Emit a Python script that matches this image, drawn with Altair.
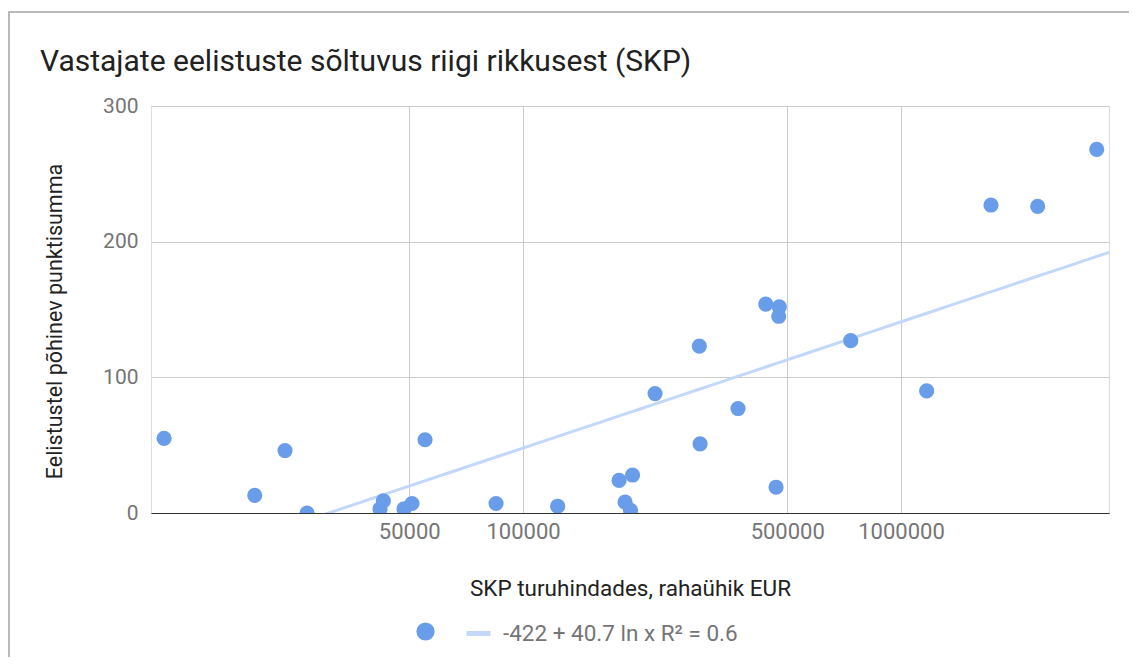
import altair as alt
import pandas as pd

# GDP at market prices (EUR) and preference-based score
gdp = [11230, 19510, 23460, 26830, 41850, 42700, 48440, 50850, 55050, 84850,
       123500, 179500, 194900, 186200, 192500, 223500, 292700, 294000, 370500,
       438700, 467100, 476400, 474700, 736200, 1169000, 1730000, 2299000, 3294000]
score = [55, 13, 46, 0, 3, 9, 3, 7, 54, 7,
         5, 24, 28, 8, 2, 88, 123, 51, 77,
         154, 19, 152, 145, 127, 90, 227, 226, 268]

x_ticks = [50000, 100000, 500000, 1000000]
y_ticks = [0, 100, 200, 300]
x_domain = [10370, 3550000]
y_domain = [0, 300]

title_text = "Vastajate eelistuste sõltuvus riigi rikkusest (SKP)"
x_title = "SKP turuhindades, rahaühik EUR"
y_title = "Eelistustel põhinev punktisumma"
point_label = " "
trend_label = "-422 + 40.7 ln x R² = 0.6"

POINT = "#6a9de9"
TREND = "#c3d7f8"
FONT = "Roboto"

df = pd.DataFrame({"gdp": gdp, "score": score, "series": [point_label] * len(gdp)})

x_enc = alt.X(
    "gdp:Q",
    scale=alt.Scale(type="log", domain=x_domain, nice=False),
    axis=alt.Axis(
        values=x_ticks, format="d", title=x_title, grid=True, gridColor="#cccccc",
        ticks=False, domain=True, domainColor="#333333", domainWidth=1.2,
        labelPadding=8, labelFont=FONT, labelFontSize=22, labelColor="#757575",
        titleFont=FONT, titleFontSize=22.5, titleFontWeight="normal", titleColor="#222222",
        titleY=75, titleBaseline="middle",
    ),
)
y_enc = alt.Y(
    "score:Q",
    scale=alt.Scale(domain=y_domain, nice=False),
    axis=alt.Axis(
        values=y_ticks, title=y_title, grid=True, gridColor="#cccccc",
        ticks=False, domain=False, labelPadding=13,
        labelFont=FONT, labelFontSize=21, labelColor="#757575",
        titleFont=FONT, titleFontSize=21.5, titleFontWeight="normal", titleColor="#222222",
        titleX=-96, titleY=215, titleBaseline="middle", titleAlign="center",
    ),
)

base = alt.Chart(df)

trend = base.transform_regression(
    "gdp", "score", method="log", extent=x_domain
).transform_calculate(
    fit="'" + trend_label + "'"
).mark_line(strokeWidth=3, clip=True).encode(
    x=x_enc,
    y=y_enc,
    stroke=alt.Stroke(
        "fit:N",
        scale=alt.Scale(domain=[trend_label], range=[TREND]),
        legend=alt.Legend(
            orient="none", legendX=313, legendY=513, title=None, padding=0,
            symbolType="stroke", symbolSize=576, symbolStrokeWidth=5,
            labelOffset=10, labelLimit=500, labelFont=FONT, labelFontSize=22.5,
            labelColor="#757575",
        ),
    ),
)

points = base.mark_circle(size=230, opacity=1, clip=True).encode(
    x=x_enc,
    y=y_enc,
    fill=alt.Fill(
        "series:N",
        scale=alt.Scale(domain=[point_label], range=[POINT]),
        legend=alt.Legend(
            orient="none", legendX=264, legendY=515, title=None, padding=0,
            symbolType="circle", symbolSize=330, symbolStrokeWidth=0, symbolOpacity=1,
            labelFont=FONT, labelFontSize=21,
        ),
    ),
)

frame_data = alt.Data(values=[{}])
border_left = alt.Chart(frame_data).mark_rule(color="#a3a3a3", strokeWidth=1.5).encode(
    x=alt.value(-142), y=alt.value(-94), y2=alt.value(560)
)
border_top = alt.Chart(frame_data).mark_rule(color="#a3a3a3", strokeWidth=1.5).encode(
    x=alt.value(-142.5), x2=alt.value(990), y=alt.value(-94)
)

chart = alt.layer(border_left, border_top, trend, points).properties(
    width=958,
    height=407,
    title=alt.TitleParams(
        title_text, anchor="start", frame="group", dx=-111, offset=0, dy=90,
        baseline="alphabetic", font=FONT, fontSize=30, fontWeight="normal",
        color="#212121",
    ),
    padding={"left": 143, "top": 98, "right": 20, "bottom": 144},
    autosize="none",
).configure_view(stroke=None).configure(background="white")

chart.save("out.html", embed_options={"renderer": "svg", "actions": False})
